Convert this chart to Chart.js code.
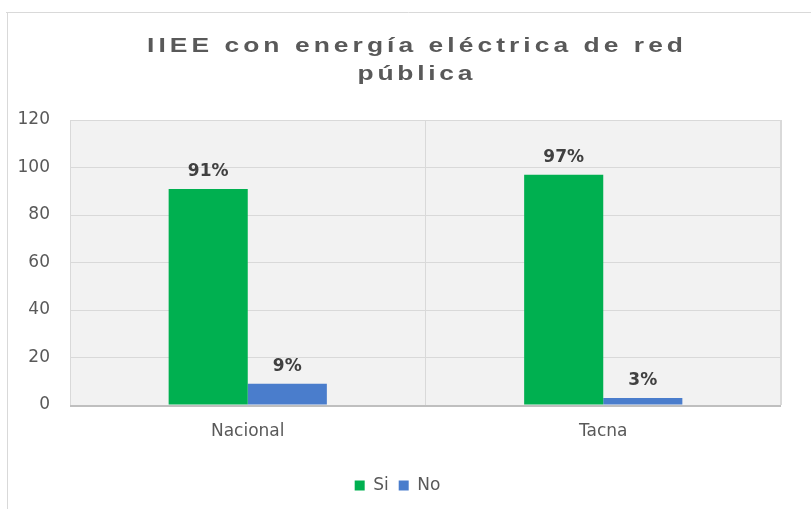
<!DOCTYPE html>
<html>
<head>
<meta charset="utf-8">
<script src="https://cdn.jsdelivr.net/npm/chart.js@4"></script>
<style>
  html, body { margin: 0; padding: 0; background: #fff; }
  #wrap { width: 811px; height: 509px; position: relative; }
</style>
</head>
<body>
<div id="wrap"><canvas id="chart"></canvas></div>
<script>
const categories = ['Nacional', 'Tacna'];
const siValues = [91, 97];
const noValues = [9, 3];
const titleLines = ['IIEE con energía eléctrica de red', 'pública'];

const gridColor = '#d9d9d9';
const textColor = '#595959';

// title text is wide in the original: stretch it and spread it to the given width
function spacedText(ctx, text, cx, y, width) {
    const sx = 1.32;
    ctx.save();
    ctx.scale(sx, 1);
    ctx.letterSpacing = '0px';
    const plain = ctx.measureText(text).width;
    const gap = (width / sx - plain) / (text.length - 1);
    ctx.letterSpacing = gap + 'px';
    ctx.fillText(text, cx / sx + gap / 2, y);
    ctx.restore();
}

// frame, plot background, border, bottom axis line, title
const backdrop = {
    id: 'backdrop',
    beforeDraw(chart) {
        const { ctx, chartArea: a } = chart;
        ctx.save();
        ctx.fillStyle = '#f2f2f2';
        ctx.fillRect(a.left, a.top, a.right - a.left, a.bottom - a.top);
        ctx.strokeStyle = gridColor;
        ctx.lineWidth = 1;
        ctx.beginPath();
        ctx.moveTo(6, 12.5);
        ctx.lineTo(811, 12.5);
        ctx.moveTo(7.5, 12);
        ctx.lineTo(7.5, 509);
        ctx.stroke();
        ctx.restore();
    },
    afterDraw(chart) {
        const { ctx, chartArea: a } = chart;
        ctx.save();
        ctx.strokeStyle = gridColor;
        ctx.lineWidth = 1;
        ctx.strokeRect(a.left + 0.5, a.top + 0.5, a.right - a.left - 1, a.bottom - a.top);
        ctx.strokeStyle = '#bfbfbf';
        ctx.lineWidth = 2;
        ctx.beginPath();
        ctx.moveTo(a.left, a.bottom + 1);
        ctx.lineTo(a.right, a.bottom + 1);
        ctx.stroke();

        ctx.fillStyle = textColor;
        ctx.font = "bold 20px 'Liberation Sans', sans-serif";
        ctx.textAlign = 'center';
        ctx.textBaseline = 'alphabetic';
        spacedText(ctx, titleLines[0], 415, 52, 536);
        spacedText(ctx, titleLines[1], 415, 80, 115);
        ctx.restore();
    }
};

// percentage labels over each bar
const barLabels = {
    id: 'barLabels',
    afterDatasetsDraw(chart) {
        const { ctx } = chart;
        ctx.save();
        ctx.font = "bold 17px 'DejaVu Sans', sans-serif";
        ctx.fillStyle = '#404040';
        ctx.textAlign = 'center';
        ctx.textBaseline = 'middle';
        chart.data.datasets.forEach((ds, i) => {
            chart.getDatasetMeta(i).data.forEach((bar, j) => {
                ctx.fillText(ds.data[j] + '%', bar.x, bar.y - 17);
            });
        });
        ctx.restore();
    }
};

new Chart(document.getElementById('chart'), {
    type: 'bar',
    data: {
        labels: categories,
        datasets: [
            { label: 'Si', data: siValues, backgroundColor: '#00b050', borderWidth: 0 },
            { label: 'No', data: noValues, backgroundColor: '#4a7dcc', borderWidth: 0 }
        ]
    },
    options: {
        responsive: true,
        maintainAspectRatio: false,
        animation: false,
        datasets: {
            bar: { categoryPercentage: 0.445, barPercentage: 1 }
        },
        layout: {
            padding: { left: 14, right: 30, top: 120, bottom: 5 }
        },
        scales: {
            x: {
                grid: { offset: true, color: gridColor, drawTicks: false },
                border: { display: false },
                ticks: {
                    color: textColor,
                    padding: 16,
                    font: { family: "'DejaVu Sans', sans-serif", size: 17 }
                },
                afterFit(scale) { scale.height = 62; }
            },
            y: {
                min: 0,
                max: 120,
                grid: { color: gridColor, drawTicks: false },
                border: { display: false },
                ticks: {
                    stepSize: 20,
                    color: textColor,
                    padding: 20,
                    font: { family: "'DejaVu Sans', sans-serif", size: 17 }
                },
                afterFit(scale) { scale.width = 56; }
            }
        },
        plugins: {
            title: { display: false },
            tooltip: { enabled: false },
            legend: {
                position: 'bottom',
                labels: {
                    color: textColor,
                    boxWidth: 10,
                    boxHeight: 10,
                    padding: 10,
                    font: { family: "'DejaVu Sans', sans-serif", size: 17 }
                }
            }
        }
    },
    plugins: [backdrop, barLabels]
});
</script>
</body>
</html>
